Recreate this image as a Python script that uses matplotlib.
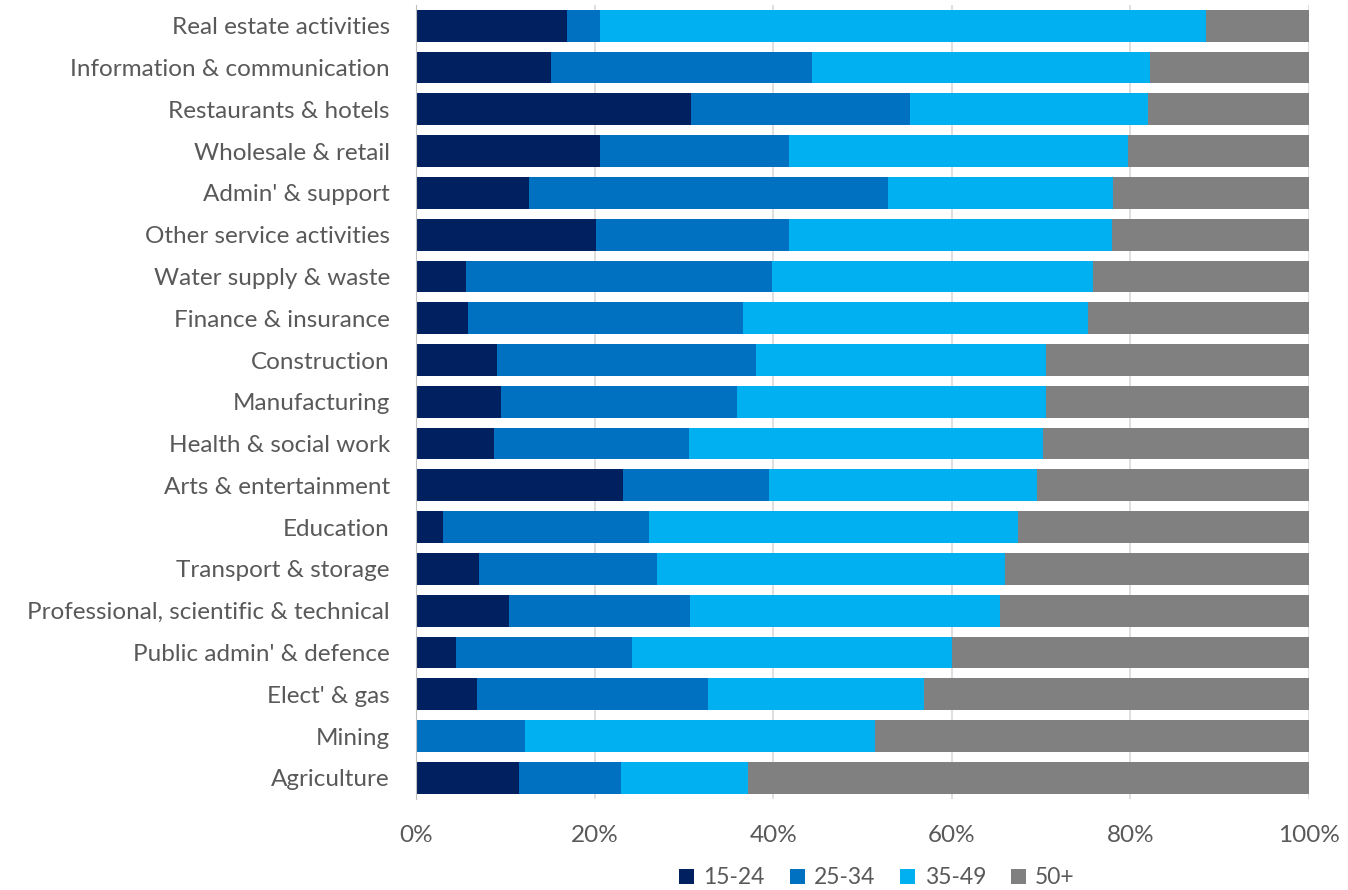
import numpy as np
import matplotlib.pyplot as plt

# Age breakdown of workforce by industry (shares, %)
industries = [
    "Real estate activities", "Information & communication", "Restaurants & hotels",
    "Wholesale & retail", "Admin' & support", "Other service activities",
    "Water supply & waste", "Finance & insurance", "Construction", "Manufacturing",
    "Health & social work", "Arts & entertainment", "Education", "Transport & storage",
    "Professional, scientific & technical", "Public admin' & defence", "Elect' & gas",
    "Mining", "Agriculture",
]
age_groups = ["15-24", "25-34", "35-49", "50+"]

age_15_24 = [16.9, 15.1, 30.8, 20.6, 12.6, 20.1, 5.6, 5.8, 9.0, 9.5,
             8.7, 23.2, 3.0, 7.0, 10.4, 4.5, 6.8, 0.0, 11.5]
age_25_34 = [3.7, 29.2, 24.5, 21.2, 40.2, 21.7, 34.3, 30.8, 29.1, 26.4,
             21.8, 16.3, 23.1, 20.0, 20.3, 19.7, 25.9, 12.2, 11.4]
age_35_49 = [67.9, 37.9, 26.7, 37.9, 25.3, 36.1, 35.9, 38.6, 32.4, 34.6,
             39.7, 30.0, 41.3, 39.0, 34.7, 35.8, 24.2, 39.2, 14.3]
age_50_plus = [100 - a - b - c for a, b, c in zip(age_15_24, age_25_34, age_35_49)]

colors = ["#002060", "#0070C0", "#00B0F0", "#808080"]
text_color = "#595959"

plt.rcParams['font.family'] = ['Lato', 'DejaVu Sans']

fig = plt.figure(figsize=(13.48, 8.9), dpi=100)
ax = fig.add_axes([416.3 / 1348, 1 - 798.7 / 890, (1309 - 416.3) / 1348, (798.7 - 4.9) / 890])

y = np.arange(len(industries))
left = np.zeros(len(industries))
for vals, label, col in zip([age_15_24, age_25_34, age_35_49, age_50_plus], age_groups, colors):
    vals = np.array(vals) / 100
    ax.barh(y, vals, left=left, height=0.76, color=col, label=label, zorder=3)
    left += vals

ax.set_xlim(0, 1)
ax.set_ylim(len(industries) - 0.5, -0.5)
ax.set_yticks(y)
ax.set_yticklabels(industries)
ax.set_xticks(np.linspace(0, 1, 6))
ax.set_xticklabels([f"{int(v)}%" for v in np.linspace(0, 100, 6)])
ax.tick_params(axis='both', length=0, labelsize=17.5, labelcolor=text_color)
ax.tick_params(axis='x', pad=19)
ax.tick_params(axis='y', pad=19)

ax.grid(axis='x', color='#D9D9D9', linewidth=1.2, zorder=0)
for s in ['top', 'right', 'bottom']:
    ax.spines[s].set_visible(False)
ax.spines['left'].set_color('#BFBFBF')
ax.spines['left'].set_zorder(4)

leg = fig.legend(loc='center', bbox_to_anchor=(877 / 1348, 1 - 878 / 890), ncol=4,
                 frameon=False, fontsize=16.5, handlelength=0.65, handleheight=0.65,
                 handletextpad=0.4, columnspacing=1.1)
for t in leg.get_texts():
    t.set_color(text_color)

fig.savefig("out.png", dpi=100)
